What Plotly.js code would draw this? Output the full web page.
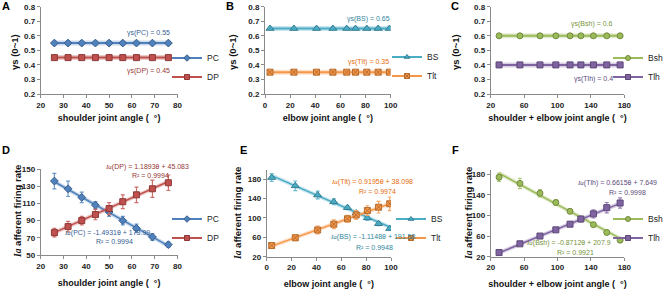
<!DOCTYPE html>
<html><head><meta charset="utf-8">
<script src="https://cdn.plot.ly/plotly-3.0.1.min.js"></script>
<style>html,body{margin:0;padding:0;background:#fff}</style>
</head><body><div id="chart" style="width:669px;height:289px"></div>
<script>
// ---- data ----
const shoulderAngle = [26, 32, 38, 44, 50, 56, 62, 69, 76];
const elbowAngle = [4, 23, 41, 54, 65, 72, 81, 90, 99];
const sumAngle = [30, 55, 79, 98, 115, 128, 143, 159, 175];

const gammaPC = [0.55, 0.55, 0.55, 0.55, 0.55, 0.55, 0.55, 0.55, 0.55];
const gammaDP = [0.45, 0.45, 0.45, 0.45, 0.45, 0.45, 0.45, 0.45, 0.45];
const gammaBS = [0.65, 0.65, 0.65, 0.65, 0.65, 0.65, 0.65, 0.65, 0.65];
const gammaTlt = [0.35, 0.35, 0.35, 0.35, 0.35, 0.35, 0.35, 0.35, 0.35];
const gammaBsh = [0.6, 0.6, 0.6, 0.6, 0.6, 0.6, 0.6, 0.6, 0.6];
const gammaTlh = [0.4, 0.4, 0.4, 0.4, 0.4, 0.4, 0.4, 0.4, 0.4];

const ratePC = [136, 127, 117, 108, 100, 90, 81, 71, 62];
const errPC = [9, 9, 6, 4, 5, 5, 5, 4, 3];
const rateDP = [76, 83, 90, 97, 104, 112, 120, 127, 134];
const errDP = [5, 6, 5, 6, 7, 8, 9, 10, 9];
const rateBS = [183, 166, 147, 133, 121, 110, 100, 88, 78];
const errBS = [8, 10, 8, 6, 4, 5, 5, 4, 4];
const rateTlt = [43, 59, 75, 87, 98, 106, 115, 122, 129];
const errTlt = [5, 6, 8, 9, 7, 9, 10, 12, 14];
const rateBsh = [174, 162, 143, 125, 108, 93, 82, 67, 52];
const errBsh = [8, 10, 7, 5, 3, 3, 3, 3, 3];
const rateTlh = [28, 45, 60, 72, 83, 93, 103, 115, 124];
const errTlh = [3, 3, 4, 4, 4, 5, 8, 10, 10];

// trendline coefficients shown in the chart [slope, intercept]
const fitPC = [-1.4931, 173.99];
const fitDP = [1.1893, 45.083];
const fitBS = [-1.1148, 191.58];
const fitTlt = [0.9195, 38.098];
const fitBsh = [-0.8712, 207.9];
const fitTlh = [0.6615, 7.649];

// ---- styling ----
const W = 669, H = 289;
const px = v => v / W, py = v => 1 - v / H;
const FONT = 'Liberation Sans, Arial, sans-serif';
const C = {
  PC: {fill: '#4F81BD', line: '#385D8A', halo: 'rgba(79,129,189,0.3)', err: '#6F97CA', txt: '#376092', sym: 'diamond'},
  DP: {fill: '#C0504D', line: '#8C3836', halo: 'rgba(192,80,77,0.3)', err: '#CD6E6B', txt: '#953735', sym: 'square'},
  BS: {fill: '#4BACC6', line: '#357D91', halo: 'rgba(75,172,198,0.3)', err: '#6CBCD1', txt: '#31859C', sym: 'triangle-up'},
  Tlt: {fill: '#F79646', line: '#B66D31', halo: 'rgba(247,150,70,0.3)', err: '#F8A866', txt: '#E46C0A', sym: 'square-x'},
  Bsh: {fill: '#9BBB59', line: '#71893F', halo: 'rgba(155,187,89,0.3)', err: '#ADC776', txt: '#77933C', sym: 'circle'},
  Tlh: {fill: '#8064A2', line: '#5C4776', halo: 'rgba(128,100,162,0.3)', err: '#977FB4', txt: '#604A7B', sym: 'square'}
};

const traces = [];
function marker(c, s) {
  return {symbol: c.sym, size: s || (c.sym === 'triangle-up' ? 7 : 6), color: c.fill, line: {color: c.line, width: 1}};
}
function legendEntry(name, ax, leg) {
  const c = C[name];
  traces.push({x: [null], y: [null], xaxis: ax[0], yaxis: ax[1], name: name, legend: leg,
    mode: 'lines+markers', line: {color: c.fill, width: 2}, marker: marker(c, 5)});
}
function topSeries(name, x, y, ax, leg) {
  const c = C[name];
  traces.push({x: x, y: y, xaxis: ax[0], yaxis: ax[1], mode: 'lines', showlegend: false,
    line: {color: c.halo, width: 5}, hoverinfo: 'skip'});
  traces.push({x: x, y: y, xaxis: ax[0], yaxis: ax[1], name: name, showlegend: false, mode: 'lines+markers',
    line: {color: c.fill, width: 2}, marker: marker(c)});
  legendEntry(name, ax, leg);
}
function botSeries(name, x, y, err, fit, ax, leg) {
  const c = C[name];
  const tx = [x[0], x[x.length - 1]];
  const ty = tx.map(v => fit[0] * v + fit[1]);
  traces.push({x: tx, y: ty, xaxis: ax[0], yaxis: ax[1], mode: 'lines', showlegend: false,
    line: {color: c.halo, width: 4}, hoverinfo: 'skip'});
  traces.push({x: tx, y: ty, xaxis: ax[0], yaxis: ax[1], mode: 'lines', showlegend: false,
    line: {color: c.fill, width: 1.5}, hoverinfo: 'skip'});
  traces.push({x: x, y: y, xaxis: ax[0], yaxis: ax[1], mode: 'markers', showlegend: false,
    marker: marker(c),
    error_y: {type: 'data', array: err, visible: true, color: c.err, thickness: 1.2, width: 2}});
  legendEntry(name, ax, leg);
}

topSeries('PC', shoulderAngle, gammaPC, ['x', 'y'], 'legend');
topSeries('DP', shoulderAngle, gammaDP, ['x', 'y'], 'legend');
topSeries('BS', elbowAngle, gammaBS, ['x2', 'y2'], 'legend2');
topSeries('Tlt', elbowAngle, gammaTlt, ['x2', 'y2'], 'legend2');
topSeries('Bsh', sumAngle, gammaBsh, ['x3', 'y3'], 'legend3');
topSeries('Tlh', sumAngle, gammaTlh, ['x3', 'y3'], 'legend3');
botSeries('PC', shoulderAngle, ratePC, errPC, fitPC, ['x4', 'y4'], 'legend4');
botSeries('DP', shoulderAngle, rateDP, errDP, fitDP, ['x4', 'y4'], 'legend4');
botSeries('BS', elbowAngle, rateBS, errBS, fitBS, ['x5', 'y5'], 'legend5');
botSeries('Tlt', elbowAngle, rateTlt, errTlt, fitTlt, ['x5', 'y5'], 'legend5');
botSeries('Bsh', sumAngle, rateBsh, errBsh, fitBsh, ['x6', 'y6'], 'legend6');
botSeries('Tlh', sumAngle, rateTlh, errTlh, fitTlh, ['x6', 'y6'], 'legend6');

const tickfont = {family: FONT, size: 8, color: '#222', weight: 'bold'};
const titlefont = {family: FONT, size: 9, color: '#111', weight: 'bold'};
function xax(dom, range, tick0, dtick, title, anchor, so) {
  return {domain: dom, range: range, tick0: tick0, dtick: dtick, anchor: anchor,
    showline: true, linecolor: '#8a8a8a', linewidth: 1, ticks: 'outside', ticklen: 3, tickcolor: '#8a8a8a',
    showgrid: false, zeroline: false, tickfont: tickfont, fixedrange: true,
    title: {text: title, font: titlefont, standoff: so}};
}
function yax(dom, range, tick0, dtick, anchor, fmt) {
  return {domain: dom, range: range, tick0: tick0, dtick: dtick, anchor: anchor, tickformat: fmt,
    showline: true, linecolor: '#8a8a8a', linewidth: 1, ticks: 'outside', ticklen: 3, tickcolor: '#8a8a8a',
    showgrid: false, zeroline: false, tickfont: tickfont, fixedrange: true};
}
const IA = "<span style='font-family:Liberation Serif'><i>Ia</i></span>";
const gTitle = 'γs (0~1)';
const rTitle = IA + ' afferent firing rate';

const topY = [py(94), py(6.7)];
const dA = [px(40.7), px(177.5)], dB = [px(265), px(390.7)], dC = [px(490.7), px(624.3)];
const dE = [px(266.7), px(391)];

function ann(text, x, y, color, size) {
  return {text: text, x: px(x), y: py(y), xref: 'paper', yref: 'paper', showarrow: false,
    xanchor: 'center', yanchor: 'middle', font: {family: FONT, size: size, color: color}};
}
function ytitle(text, x, y) {
  return {text: text, x: px(x), y: py(y), xref: 'paper', yref: 'paper', showarrow: false, textangle: -90,
    xanchor: 'center', yanchor: 'middle', font: {family: FONT, size: 9.5, color: '#111', weight: 'bold'}};
}
function legend(x, y) {
  return {x: px(x), y: py(y), xanchor: 'left', yanchor: 'top', bgcolor: 'rgba(0,0,0,0)',
    font: {family: FONT, size: 8.5, color: '#222'}, itemwidth: 30, tracegroupgap: 0};
}

const layout = {
  width: W, height: H, margin: {l: 0, r: 0, t: 0, b: 0},
  paper_bgcolor: '#fff', plot_bgcolor: '#fff', showlegend: true,
  xaxis: xax(dA, [20, 80], 20, 10, 'shoulder joint angle (  °)', 'y', 6),
  yaxis: yax(topY, [0.2, 0.8], 0.2, 0.1, 'x', '.1f'),
  xaxis2: xax(dB, [0, 100], 0, 20, 'elbow joint angle (  °)', 'y2', 6),
  yaxis2: yax(topY, [0.2, 0.8], 0.2, 0.1, 'x2', '.1f'),
  xaxis3: xax(dC, [20, 180], 20, 40, 'shoulder + elbow joint angle (  °)', 'y3', 6),
  yaxis3: yax(topY, [0.2, 0.8], 0.2, 0.1, 'x3', '.1f'),
  xaxis4: xax(dA, [20, 80], 20, 10, 'shoulder joint angle (  °)', 'y4', 10),
  yaxis4: yax([py(255), py(169)], [50, 150], 50, 20, 'x4'),
  xaxis5: xax(dE, [0, 100], 0, 20, 'elbow joint angle (  °)', 'y5', 10),
  yaxis5: yax([py(256.7), py(170.3)], [20, 198], 20, 40, 'x5'),
  xaxis6: xax(dC, [20, 180], 20, 40, 'shoulder + elbow joint angle (  °)', 'y6', 10),
  yaxis6: yax([py(256.7), py(170)], [20, 188], 20, 40, 'x6'),
  legend: legend(167, 43.5),
  legend2: legend(387, 42.5),
  legend3: legend(608, 43.5),
  legend4: legend(167, 204.5),
  legend5: legend(391, 204.5),
  legend6: legend(608, 204.5),
  annotations: [
    ann('<b>A</b>', 6, 6, '#000', 11), ann('<b>B</b>', 230, 6, '#000', 11), ann('<b>C</b>', 455, 6, '#000', 11),
    ann('<b>D</b>', 6, 150, '#000', 11), ann('<b>E</b>', 243, 150, '#000', 11), ann('<b>F</b>', 455, 150, '#000', 11),
    ytitle(gTitle, 15, 52), ytitle(gTitle, 233, 52), ytitle(gTitle, 456, 52),
    ytitle(rTitle, 17, 212), ytitle(rTitle, 237, 214), ytitle(rTitle, 468, 214),
    ann('γs(PC) = 0.55', 148, 33, C.PC.txt, 7),
    ann('γs(DP) = 0.45', 148, 71, C.DP.txt, 7),
    ann('γs(BS) = 0.65', 368, 19, C.BS.txt, 7),
    ann('γs(Tlt) = 0.35', 368, 62, C.Tlt.txt, 7),
    ann('γs(Bsh) = 0.6', 592, 24, C.Bsh.txt, 7),
    ann('γs(Tlh) = 0.4', 593, 79, C.Tlh.txt, 7),
    ann(IA + '(DP) = 1.1893θ + 45.083', 147, 167, C.DP.txt, 7),
    ann('R² = 0.9994', 150, 175.5, C.DP.txt, 7),
    ann(IA + '(PC) = -1.4931θ + 173.99', 107, 233, C.PC.txt, 7),
    ann('R² = 0.9994', 115, 241.5, C.PC.txt, 7),
    ann(IA + '(Tlt) = 0.9195θ + 38.098', 372, 182, C.Tlt.txt, 7),
    ann('R² = 0.9974', 377, 191, C.Tlt.txt, 7),
    ann(IA + '(BS) = -1.1148θ + 191.58', 372, 237, C.BS.txt, 7),
    ann('R² = 0.9948', 375, 247, C.BS.txt, 7),
    ann(IA + '(Tlh) = 0.6615θ + 7.649', 617, 183, C.Tlh.txt, 7),
    ann('R² = 0.9998', 627, 192, C.Tlh.txt, 7),
    ann(IA + '(Bsh) = -0.8712θ + 207.9', 568, 243, C.Bsh.txt, 7),
    ann('R² = 0.9921', 575, 252, C.Bsh.txt, 7)
  ]
};
Plotly.newPlot('chart', traces, layout, {staticPlot: true, displayModeBar: false});
</script></body></html>
